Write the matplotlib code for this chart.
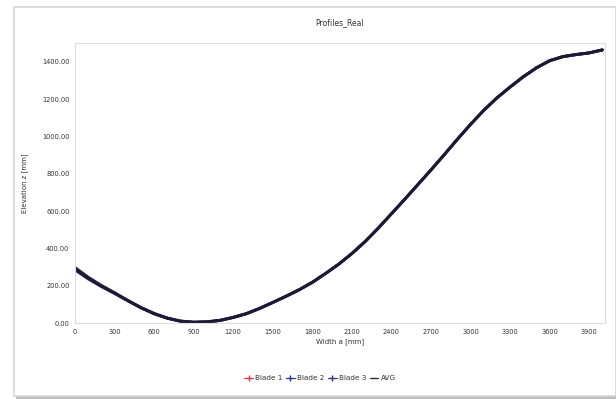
import matplotlib
matplotlib.use("Agg")
import matplotlib.pyplot as plt
from matplotlib.patches import Rectangle
from matplotlib.ticker import FormatStrFormatter, MultipleLocator

width_mm = [0, 100, 200, 300, 400, 500, 600, 700, 800, 900, 1000,
            1100, 1200, 1300, 1400, 1500, 1600, 1700, 1800, 1900, 2000,
            2100, 2200, 2300, 2400, 2500, 2600, 2700, 2800, 2900, 3000,
            3100, 3200, 3300, 3400, 3500, 3600, 3700, 3800, 3900, 4000]

blade_1 = [298, 246, 202, 163, 122, 84, 52, 27, 11, 5, 7,
           15, 31, 51, 79, 111, 144, 179, 219, 266, 316,
           373, 437, 509, 586, 663, 742, 821, 902, 985, 1065,
           1140, 1207, 1265, 1320, 1368, 1406, 1428, 1439, 1448, 1464]
blade_2 = [284, 236, 195, 158, 119, 81, 49, 25, 9, 3, 5,
           13, 29, 49, 77, 109, 142, 177, 217, 264, 314,
           371, 435, 507, 584, 661, 740, 819, 900, 983, 1063,
           1138, 1205, 1263, 1318, 1366, 1404, 1426, 1437, 1446, 1462]
blade_3 = [290, 240, 198, 160, 120, 82, 50, 26, 10, 4, 6,
           14, 30, 50, 78, 110, 143, 178, 218, 265, 315,
           372, 436, 508, 585, 662, 741, 820, 901, 984, 1064,
           1139, 1206, 1264, 1319, 1367, 1405, 1427, 1438, 1447, 1463]
avg = [291, 241, 198, 160, 120, 82, 50, 26, 10, 4, 6,
       14, 30, 50, 78, 110, 143, 178, 218, 265, 315,
       372, 436, 508, 585, 662, 741, 820, 901, 984, 1064,
       1139, 1206, 1264, 1319, 1367, 1405, 1427, 1438, 1447, 1463]

series_names = ["Blade 1", "Blade 2", "Blade 3", "AVG"]
series_colors = ["#4a2a4e", "#1f2a6b", "#33336e", "#1a1a30"]
series_markers = ["+", "+", "+", "_"]

fig = plt.figure(figsize=(6.16, 4.05), dpi=100)
fig.patch.set_facecolor("white")

# chart frame and shadow
fig.patches.append(Rectangle((16/616, 6/405), 600/616, 392/405, transform=fig.transFigure,
                             facecolor="#bdbdbd", edgecolor="none", zorder=-10))
fig.patches.append(Rectangle((14/616, 9/405), 602/616, 389/405, transform=fig.transFigure,
                             facecolor="white", edgecolor="#d6d6d6", linewidth=1.2, zorder=-9))

ax = fig.add_axes([75/616, 1 - 323/405, 530/616, 280/405])
ax.set_zorder(5)
ax.set_facecolor("white")
for name, ys, col in zip(series_names, [blade_1, blade_2, blade_3, avg], series_colors):
    ax.plot(width_mm, ys, color=col, linewidth=2.0, label=name, solid_capstyle="round")

ax.set_xlim(0, 4020)
ax.set_ylim(0, 1500)
ax.xaxis.set_major_locator(MultipleLocator(300))
ax.yaxis.set_major_locator(MultipleLocator(200))
ax.yaxis.set_major_formatter(FormatStrFormatter("%.2f"))
ax.tick_params(labelsize=4.8, colors="#333333", length=0, pad=4)
for s in ax.spines.values():
    s.set_color("#dddddd")
    s.set_linewidth(0.8)
ax.axhline(0, color="#bbbbbb", linestyle=(0, (2, 2)), linewidth=0.8, zorder=0)

ax.set_title("Profiles_Real", fontsize=5.5, color="#333333", pad=13)
ax.set_xlabel("Width a [mm]", fontsize=5, color="#333333", labelpad=3)
ax.set_ylabel("Elevation z [mm]", fontsize=5, color="#333333", labelpad=10)

handles = [plt.Line2D([], [], color=c, marker=m, linestyle="-", linewidth=0.8,
                      markersize=4) for c, m in zip(["#d04050", "#2a3a8a", "#3a3a7a", "#333333"],
                                                    series_markers)]
leg = fig.legend(handles, series_names, loc="center", bbox_to_anchor=(320/616, 1 - 378/405),
                 ncol=4, frameon=False, fontsize=5.2, handlelength=1.2, handletextpad=0.3,
                 columnspacing=0.5, labelcolor="#333333")

fig.savefig("out.png", dpi=100, facecolor="white")
